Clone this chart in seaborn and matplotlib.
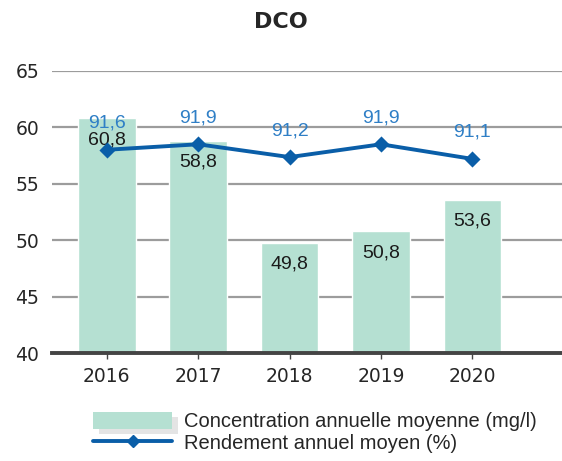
import numpy as np
import pandas as pd
import matplotlib
matplotlib.use("Agg")
import matplotlib.pyplot as plt
import matplotlib.patheffects as pe
import seaborn as sns
from matplotlib.patches import Patch
from matplotlib.lines import Line2D

years = ["2016", "2017", "2018", "2019", "2020"]
concentration = [60.8, 58.8, 49.8, 50.8, 53.6]
rendement = [91.6, 91.9, 91.2, 91.9, 91.1]

bar_color = "#b5e0d2"
line_color = "#0a5ea8"
label_blue = "#2f7fc6"

sns.set_style("white")
plt.rcParams["font.family"] = ["DejaVu Sans"]

df = pd.DataFrame({"annee": years, "conc": concentration, "rend": rendement})

fig = plt.figure(figsize=(5.62, 4.61), dpi=100)
ax = fig.add_axes([0.0925, 0.234, 0.9075, 0.612])

sns.barplot(data=df, x="annee", y="conc", color=bar_color, width=0.63,
            saturation=1, ax=ax, zorder=2)
ax.set_ylim(40, 65)
ax.set_xlim(-0.6, 4.98)
ax.set_yticks([40, 45, 50, 55, 60, 65])
ax.yaxis.grid(True, color="#9c9c9c", linewidth=1.6, zorder=0)
ax.set_axisbelow(True)
for s in ["top", "right", "left"]:
    ax.spines[s].set_visible(False)
ax.spines["bottom"].set_color("#444444")
ax.spines["bottom"].set_linewidth(2.8)
ax.spines["bottom"].set_zorder(3)
ax.tick_params(axis="y", length=0, labelsize=13.5, pad=0)
ax.tick_params(axis="x", length=4, width=1, color="#444444", labelsize=13.5, pad=6, bottom=True)
ax.set_xlabel("")
ax.set_ylabel("")
for lab in ax.get_yticklabels():
    lab.set_horizontalalignment("left")
    lab.set_transform(ax.get_yaxis_transform())
    lab.set_x(-0.072)

for i, v in enumerate(concentration):
    ax.text(i, v - 1.9, f"{v:.1f}".replace(".", ","), ha="center", va="center",
            fontsize=14, family="Liberation Sans", color="#1a1a1a", zorder=5)

ax2 = ax.twinx()
sns.pointplot(data=df, x="annee", y="rend", color=line_color, markers="D",
              markersize=6.5, linewidth=2.8, ax=ax2, zorder=4)
ax2.set_ylim(80.5, 95.9)
ax2.set_xlim(-0.6, 4.98)
ax2.axis("off")
for i, v in enumerate(rendement):
    ax2.text(i, v + 1.45, f"{v:.1f}".replace(".", ","), ha="center", va="center",
             fontsize=14, family="Liberation Sans", color=label_blue, zorder=6)

fig.text(0.5, 0.953, "DCO", ha="center", va="center", fontsize=16, fontweight="bold")

bar_handle = Patch(facecolor=bar_color, edgecolor="none",
                   path_effects=[pe.SimplePatchShadow(offset=(4, -4), shadow_rgbFace="#e4e4e4", alpha=1),
                                 pe.Normal()])
handles = [bar_handle,
           Line2D([0], [0], color=line_color, marker="D", markersize=6, linewidth=2.8)]
fig.legend(handles, ["Concentration annuelle moyenne (mg/l)", "Rendement annuel moyen (%)"],
           loc="center left", bbox_to_anchor=(0.134, 0.062), frameon=False,
           prop={"family": "Liberation Sans", "size": 14.5}, handlelength=3.9,
           handleheight=0.9, labelspacing=0.12, handletextpad=0.6)

fig.savefig("out.png", dpi=100)
